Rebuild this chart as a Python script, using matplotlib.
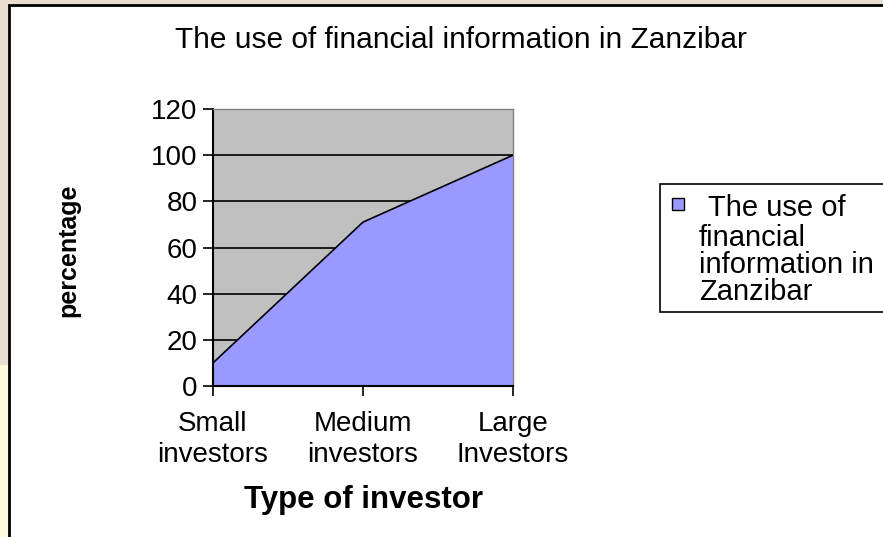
import matplotlib.pyplot as plt
from matplotlib.patches import Rectangle

categories = ['Small\ninvestors', 'Medium\ninvestors', 'Large\nInvestors']
values = [10, 71, 100]
yticks = [0, 20, 40, 60, 80, 100, 120]
legend_lines = ['The use of', 'financial', 'information in', 'Zanzibar']

plt.rcParams['font.family'] = ['Liberation Sans', 'DejaVu Sans']

W, H = 883, 537
fig = plt.figure(figsize=(W / 100, H / 100), dpi=100)
fig.patch.set_facecolor('#e8dfd0')


def fx(px):
    return px / W


def fy(py):
    return 1 - py / H


# background strip on the left, light yellow lower part
fig.patches.append(Rectangle((0, 0), 0.012, 0.32, transform=fig.transFigure,
                             facecolor='#fffbdc', edgecolor='none', zorder=-2))
# chart frame
fig.patches.append(Rectangle((fx(9), -0.01), 1.0, fy(5) + 0.01, transform=fig.transFigure,
                             facecolor='white', edgecolor='black', linewidth=2, zorder=-1))

ax = fig.add_axes([fx(213), fy(386), fx(300), 277 / H])
ax.set_facecolor('#c0c0c0')

x = list(range(len(categories)))
ax.fill_between(x, values, 0, color='#9999ff', zorder=2)
ax.plot(x, values, color='black', linewidth=1.2, zorder=3)

ax.set_xlim(0, 2)
ax.set_ylim(0, 120)
ax.set_yticks(yticks)
ax.set_xticks(x)
ax.set_xticklabels(categories, fontsize=20, linespacing=1.25)
ax.tick_params(axis='y', labelsize=20, direction='out', length=7, width=1.2, pad=4)
ax.tick_params(axis='x', direction='out', length=7, width=1.2, pad=11)
for y in yticks[1:-1]:
    ax.axhline(y, color='black', linewidth=1.2, zorder=1)

for s in ['top', 'right']:
    ax.spines[s].set_color('#808080')
    ax.spines[s].set_linewidth(1)
ax.spines['left'].set_linewidth(1.5)
ax.spines['bottom'].set_linewidth(1.5)

fig.text(fx(461), fy(40), 'The use of financial information in Zanzibar',
         ha='center', va='center', fontsize=21.5)
fig.text(fx(68), fy(250), 'percentage', rotation=90, ha='center', va='center',
         fontsize=18, fontweight='bold', family=['Liberation Sans Narrow', 'Liberation Sans'])
fig.text(fx(363), fy(500), 'Type of investor', ha='center', va='center',
         fontsize=22.5, fontweight='bold')

# legend box
fig.patches.append(Rectangle((fx(660), fy(312)), 0.3, 128 / H,
                             transform=fig.transFigure, facecolor='white',
                             edgecolor='black', linewidth=1.2, zorder=1))
fig.patches.append(Rectangle((fx(672), fy(210)), 12 / W, 12 / H,
                             transform=fig.transFigure, facecolor='#9999ff',
                             edgecolor='black', linewidth=1, zorder=2))
fig.text(fx(708), fy(208), legend_lines[0], ha='left', va='center', fontsize=21)
for i, line in enumerate(legend_lines[1:]):
    fig.text(fx(699), fy(238 + 27 * i), line, ha='left', va='center', fontsize=21)

fig.savefig('out.png', dpi=100, facecolor=fig.get_facecolor())
